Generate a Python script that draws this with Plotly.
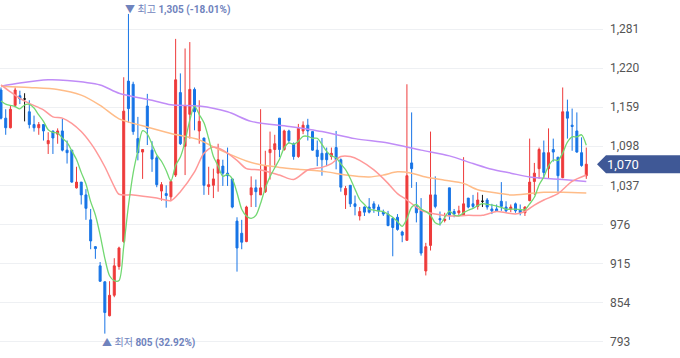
import plotly.graph_objects as go
import pandas as pd

# ---- candle data ----
opens = [1186,1142,1127,1162,1177,1172,1152,1132,1127,1132,1102,1122,1117,1122,1092,1092,1033,1042,1022,983,
         941,911,886,833,865,910,949,1200,1195,1110,1089,1161,1092,1080,1028,1024,1019,1053,1182,1098,
         1148,1187,1122,1111,1035,1037,1056,1067,1056,1047,981,962,949,1022,1033,1022,1027,1088,1093,1142,
         1093,1122,1102,1082,1122,1131,1121,1092,1087,1087,1082,1096,1077,1022,1037,1008,989,1003,1003,1008,
         1003,995,992,985,987,964,951,1072,1004,998,903,943,1022,985,982,1033,996,994,990,1017,
         1008,1004,1012,1014,1000,1000,1012,1003,1000,1008,999,994,1013,1043,1063,1088,1063,1093,1081,1049,
         1152,1131,1122,1088,1052]
highs = [1190,1156,1162,1190,1185,1181,1170,1146,1136,1132,1120,1122,1126,1141,1107,1092,1066,1042,1031,1000,
         942,917,887,887,923,941,1206,1305,1199,1144,1093,1180,1106,1083,1042,1037,1046,1266,1212,1251,
         1261,1190,1170,1111,1066,1063,1102,1077,1096,1047,987,983,1005,1051,1046,1156,1091,1121,1116,1142,
         1124,1124,1104,1133,1137,1141,1121,1107,1111,1096,1096,1122,1079,1036,1037,1021,1003,1004,1017,1012,
         1007,999,997,987,992,966,1195,1151,1042,1017,947,1121,1051,996,994,1033,1000,1005,1081,1017,
         1022,1026,1022,1017,1008,1007,1042,1012,1007,1010,1007,1004,1110,1072,1096,1107,1126,1110,1081,1190,
         1171,1157,1151,1112,1096]
lows = [1140,1116,1126,1159,1164,1137,1126,1121,1116,1107,1086,1086,1102,1090,1071,1041,1032,1007,983,937,
        922,886,805,832,862,905,947,1135,1116,1076,1047,1100,1058,1034,1013,1002,1012,1050,1100,1053,
        1110,1123,1102,1022,1022,1017,1027,1036,1036,1001,902,937,948,1003,1003,1022,1025,1046,1068,1081,
        1091,1102,1077,1080,1117,1107,1091,1067,1052,1067,1077,1062,1027,1000,1003,990,982,989,993,994,
        989,989,973,926,966,948,950,1033,979,927,896,935,1001,974,979,983,987,989,989,1001,
        1001,999,1003,999,992,996,997,994,995,994,990,989,1012,1022,1047,1048,1048,1074,1027,1048,
        1110,1091,1088,1066,1047]
closes = [1142,1127,1156,1186,1172,1172,1132,1127,1132,1122,1107,1111,1122,1092,1088,1042,1042,1022,1001,950,
          938,887,838,865,911,939,1153,1157,1121,1088,1093,1126,1078,1038,1038,1021,1043,1202,1102,1161,
          1187,1152,1137,1037,1038,1047,1077,1056,1052,1003,939,948,1003,1033,1027,1033,1067,1093,1102,1093,
          1122,1107,1082,1126,1131,1122,1092,1082,1077,1077,1087,1077,1034,1032,1008,1004,996,995,995,1001,
          997,992,974,971,968,959,1052,1063,994,931,941,1022,1004,983,984,990,992,997,1008,1003,
          1004,1014,1012,1003,997,997,1004,997,1003,997,994,1003,1042,1056,1093,1057,1088,1089,1052,1152,
          1142,1129,1089,1068,1070]

# ---- moving averages ----
ma5_head = [1169, 1164, 1162, 1160]          # first points of the 5-day line
ma20_idx = [0,2,4,6,9,11,13,15,17,19,20,22,24,25,28,33,36,38,41,43,45,47,50,52,55,59,62,65,68,70,72,74,76,79,82,84,86,89,92,95,99,102,105,107,109,111,113,115,118,121,124]
ma20_val = [1194,1183,1173,1165,1155,1144,1142,1134,1121,1103,1092,1066,1035,1023,1022,1017,1013,1027,1058,1087,1097,1092,1076,1063,1061,1053,1046,1061,1065,1071,1082,1082,1076,1061,1040,1024,1014,998,992,989,990,990,996,994,992,996,1006,1014,1024,1043,1053]
ma60_idx = [0,6,12,17,21,25,30,36,42,45,48,52,55,59,63,69,73,78,81,84,87,90,94,98,101,106,108,112,115,119,124]
ma60_val = [1192,1190,1187,1178,1162,1141,1130,1118,1108,1097,1087,1075,1069,1065,1062,1058,1053,1050,1053,1058,1056,1050,1045,1040,1030,1024,1022,1024,1026,1026,1025]
ma120_idx = [0,4,10,14,21,25,32,36,42,48,53,61,68,75,82,89,95,100,104,108,112,115,119,124]
ma120_val = [1192,1197,1202,1201,1194,1181,1170,1163,1161,1152,1137,1129,1121,1110,1103,1092,1083,1071,1062,1056,1050,1048,1046,1043]

# ---- y-axis ticks ----
tick_vals = [793, 854, 915, 976, 1037, 1098, 1159, 1220, 1281]
tick_text = [f"{v:,}" for v in tick_vals]

RED = "#EE3B3B"
BLUE = "#1774E6"

n = len(closes)
idx = list(range(n))
df = pd.DataFrame({"x": idx, "o": opens, "h": highs, "l": lows, "c": closes})
ma5 = df["c"].rolling(5).mean().tolist()
ma5[:4] = ma5_head

normal = df[df.o != df.c]
doji = df[df.o == df.c]

fig = go.Figure()
fig.add_trace(go.Candlestick(
    x=normal.x, open=normal.o, high=normal.h, low=normal.l, close=normal.c,
    increasing=dict(line=dict(color=RED, width=1), fillcolor=RED),
    decreasing=dict(line=dict(color=BLUE, width=1), fillcolor=BLUE),
    whiskerwidth=0, hoverinfo="skip", showlegend=False))
fig.add_trace(go.Candlestick(
    x=doji.x, open=doji.o, high=doji.h, low=doji.l, close=doji.c,
    increasing=dict(line=dict(color="#111111", width=1), fillcolor="#111111"),
    decreasing=dict(line=dict(color="#111111", width=1), fillcolor="#111111"),
    whiskerwidth=0, hoverinfo="skip", showlegend=False))

line_style = dict(shape="spline", smoothing=0.8)
fig.add_trace(go.Scatter(x=ma120_idx, y=ma120_val, mode="lines",
                         line=dict(color="#C08CF7", width=1.5, **line_style), showlegend=False))
fig.add_trace(go.Scatter(x=ma60_idx, y=ma60_val, mode="lines",
                         line=dict(color="#FFBC88", width=1.5, **line_style), showlegend=False))
fig.add_trace(go.Scatter(x=ma20_idx, y=ma20_val, mode="lines",
                         line=dict(color="#FF9999", width=1.5, **line_style), showlegend=False))
fig.add_trace(go.Scatter(x=idx, y=ma5, mode="lines",
                         line=dict(color="#72D872", width=1.3, **line_style), showlegend=False))

hi = max(highs); hi_i = highs.index(hi)
lo = min(lows); lo_i = lows.index(lo)
last = closes[-1]
ann_color = "#6F83BD"
ann_font = dict(family="Roboto, Noto Sans CJK KR", size=10, color=ann_color)

annotations = [
    dict(x=hi_i, y=hi, xref="x", yref="y", showarrow=False, xanchor="left", yanchor="bottom",
         xshift=-5, yshift=-4,
         text=f"▼ 최고 <b>{hi:,} ({(last-hi)/hi*100:.2f}%)</b>", font=ann_font),
    dict(x=lo_i, y=lo, xref="x", yref="y", showarrow=False, xanchor="left", yanchor="top",
         xshift=-5, yshift=-1,
         text=f"▲ 최저 <b>{lo:,} ({(last-lo)/lo*100:.2f}%)</b>", font=ann_font),
    dict(x=1, y=last, xref="paper", yref="y", showarrow=False, xanchor="left", yanchor="middle",
         xshift=2, text=f"{last:,}", font=dict(family="Roboto", size=13, color="white")),
]

shapes = [dict(type="path", xref="paper", yref="y", xsizemode="pixel", ysizemode="pixel",
               xanchor=1, yanchor=last,
               path="M-6,0 L3,9 L80,9 L80,-9 L3,-9 Z",
               fillcolor="#3F5896", line=dict(width=0), layer="above")]

fig.update_layout(
    width=680, height=358,
    margin=dict(l=0, r=77, t=0, b=0),
    paper_bgcolor="white", plot_bgcolor="white",
    boxgap=0.4,
    xaxis=dict(range=[-0.21, 127.54], visible=False, rangeslider=dict(visible=False),
               showgrid=False, zeroline=False),
    yaxis=dict(side="right", range=[766.9, 1326.8], tickvals=tick_vals, ticktext=tick_text,
               showgrid=True, gridcolor="#EEF0F3", gridwidth=1, zeroline=False, showline=False,
               ticks="", ticklabelstandoff=6,
               tickfont=dict(family="Roboto", size=12, color="#555555")),
    annotations=annotations, shapes=shapes,
    showlegend=False,
)

fig.write_html("out.html", config={"displayModeBar": False},
               post_script="document.body.style.margin='0';document.body.style.overflow='hidden';")
